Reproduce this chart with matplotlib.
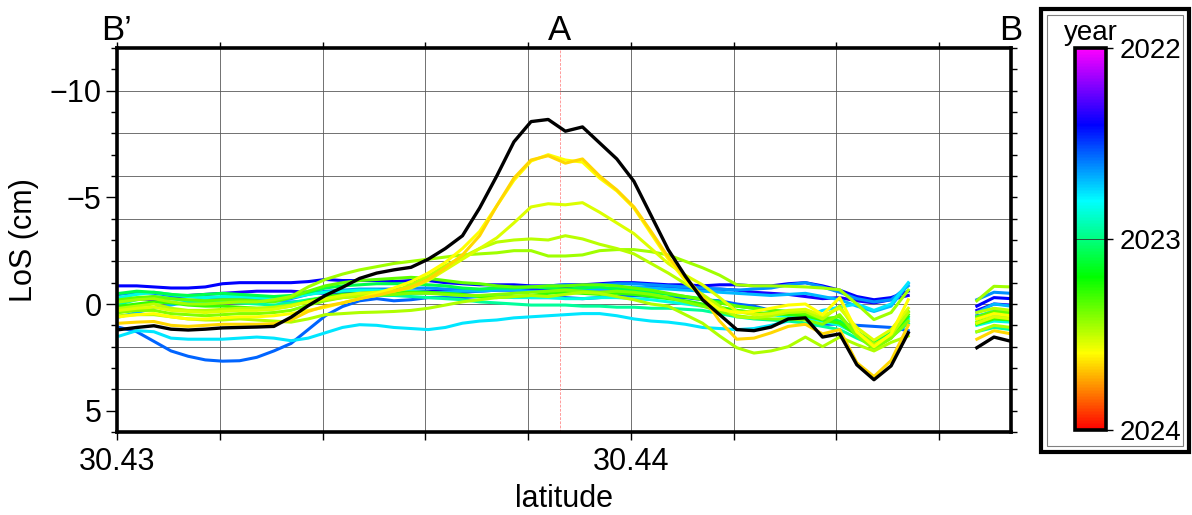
import numpy as np
import matplotlib
matplotlib.use("Agg")
import matplotlib.pyplot as plt
from matplotlib.colors import LinearSegmentedColormap, Normalize
from matplotlib.cm import ScalarMappable
from matplotlib.patches import Rectangle

plt.rcParams['font.family'] = ['Liberation Sans', 'DejaVu Sans']
FS = 22
FS_CB = 20

# ---- profile sampling (regular spacing along latitude, samples 47-49 missing)
lat = 30.43005 + 0.0003337 * np.arange(53)
GAP = 47, 50

# ---- LoS displacement profiles (cm), 47 samples before the gap + 3 after
los_2022_36 = [-0.20,-0.25,-0.20,-0.30,-0.40,-0.45,-0.50,-0.55,-0.60,-0.60, -0.60,-0.55,-0.50,-0.50,-0.50,-0.55,-0.55,-0.60,-0.60,-0.60, -0.55,-0.60,-0.65,-0.65,-0.70,-0.70,-0.75,-0.70,-0.70,-0.70, -0.75,-0.80,-0.80,-0.75,-0.70,-0.70,-0.65,-0.55,-0.50,-0.45, -0.35,-0.25,-0.30,-0.15,-0.05,-0.20,-0.40, 0.30,0.00,0.05]
los_2022_40 = [-0.85,-0.85,-0.80,-0.75,-0.75,-0.80,-0.95,-1.00,-1.00,-1.00, -1.00,-1.05,-1.15,-1.10,-1.10,-1.10,-1.05,-1.10,-1.10,-1.00, -0.95,-0.90,-0.90,-0.90,-0.85,-0.85,-0.90,-0.90,-0.95,-1.00, -1.00,-0.95,-0.90,-0.90,-0.85,-0.90,-0.90,-0.85,-0.85,-0.95, -1.00,-0.85,-0.65,-0.35,-0.20,-0.30,-0.60, 0.10,-0.30,-0.25]
los_2022_56 = [1.10,1.30,1.75,2.20,2.45,2.62,2.68,2.66,2.50,2.20, 1.85,1.20,0.55,0.12,-0.15,-0.25,-0.15,-0.20,-0.30,-0.30, -0.30,-0.35,-0.40,-0.35,-0.30,-0.30,-0.30,-0.25,-0.30,-0.35, -0.40,-0.35,-0.30,-0.30,-0.20,-0.15,0.00,0.10,0.30,0.60, 0.95,0.95,0.95,1.00,1.05,1.10,1.25, 0.55,0.45,0.50]
los_2022_63 = [-0.45,-0.55,-0.50,-0.40,-0.35,-0.30,-0.30,-0.25,-0.20,-0.15, -0.25,-0.45,-0.60,-0.65,-0.70,-0.70,-0.70,-0.75,-0.75,-0.70, -0.70,-0.65,-0.70,-0.75,-0.80,-0.85,-0.90,-0.85,-0.90,-0.95, -0.95,-0.90,-0.85,-0.80,-0.75,-0.70,-0.65,-0.70,-0.75,-0.90, -1.00,-0.80,-0.55,-0.25,-0.10,-0.20,-0.85, -0.20,-0.55,-0.50]
los_2022_69 = [0.60,0.40,0.20,0.05,-0.10,-0.15,-0.15,-0.20,-0.20,-0.15, -0.10,-0.15,-0.25,-0.35,-0.40,-0.45,-0.50,-0.50,-0.50,-0.55, -0.60,-0.60,-0.65,-0.65,-0.60,-0.60,-0.60,-0.65,-0.70,-0.75, -0.80,-0.75,-0.70,-0.65,-0.60,-0.55,-0.50,-0.45,-0.40,-0.45, -0.50,-0.35,-0.20,0.10,0.35,0.10,-0.95, 0.40,0.00,0.10]
los_2022_76 = [1.50,1.25,1.30,1.60,1.65,1.65,1.65,1.60,1.55,1.60, 1.72,1.60,1.35,1.10,0.97,1.00,1.10,1.15,1.20,1.10, 0.90,0.80,0.75,0.65,0.60,0.55,0.50,0.45,0.45,0.55, 0.70,0.80,0.85,0.95,1.10,1.15,1.20,1.15,1.00,0.80, 0.60,0.30,0.15,0.00,0.30,0.00,-1.00, 0.60,0.30,0.35]
los_2022_85 = [-0.30,-0.45,-0.55,-0.45,-0.35,-0.30,-0.35,-0.35,-0.30,-0.25, -0.30,-0.45,-0.55,-0.60,-0.65,-0.65,-0.60,-0.60,-0.55,-0.45, -0.40,-0.35,-0.35,-0.30,-0.30,-0.30,-0.25,-0.25,-0.30,-0.30, -0.25,-0.20,-0.10,0.00,0.10,0.20,0.30,0.40,0.50,0.60, 0.65,0.80,1.00,1.40,1.75,1.40,0.70, 1.00,0.80,0.85]
los_2022_96 = [0.00,-0.20,-0.35,-0.25,-0.15,-0.10,-0.10,-0.05,0.00,0.05, -0.05,-0.20,-0.30,-0.35,-0.35,-0.40,-0.40,-0.35,-0.30,-0.25, -0.20,-0.10,-0.05,0.00,0.05,0.05,0.05,0.10,0.10,0.15, 0.15,0.20,0.20,0.25,0.30,0.45,0.60,0.70,0.75,0.80, 0.90,1.05,1.20,1.60,1.95,1.55,0.90, 1.30,1.10,1.20]
los_2023_08 = [-0.50,-0.60,-0.55,-0.45,-0.40,-0.45,-0.50,-0.45,-0.40,-0.35, -0.40,-0.55,-0.75,-0.85,-0.90,-0.95,-0.95,-0.95,-0.90,-0.85, -0.75,-0.70,-0.75,-0.75,-0.80,-0.75,-0.70,-0.75,-0.80,-0.70, -0.65,-0.55,-0.45,-0.35,-0.25,-0.10,0.10,0.20,0.30,0.35, 0.45,0.60,0.80,1.30,1.80,1.35,0.60, 0.70,0.45,0.50]
los_2023_28 = [0.10,0.00,-0.10,-0.05,0.05,0.10,0.10,0.15,0.20,0.20, 0.10,-0.15,-0.35,-0.45,-0.50,-0.55,-0.55,-0.55,-0.55,-0.50, -0.45,-0.35,-0.30,-0.35,-0.40,-0.50,-0.55,-0.50,-0.45,-0.50, -0.45,-0.35,-0.25,-0.15,0.00,0.15,0.30,0.40,0.45,0.50, 0.55,0.75,0.90,1.45,2.05,1.60,0.50, 0.95,0.70,0.75]
los_2023_35 = [-0.20,-0.30,-0.35,-0.25,-0.20,-0.15,-0.20,-0.20,-0.15,-0.10, -0.30,-0.60,-0.85,-1.00,-1.10,-1.15,-1.20,-1.25,-1.20,-1.10, -1.00,-0.95,-0.85,-0.80,-0.80,-0.85,-0.85,-0.90,-0.90,-0.85, -0.75,-0.65,-0.50,-0.35,-0.20,-0.05,0.10,0.20,0.30,0.35, 0.45,0.70,0.60,1.35,1.90,1.50,0.35, 0.60,0.35,0.40]
los_2023_40 = [0.40,0.30,0.30,0.45,0.50,0.55,0.50,0.45,0.45,0.40, 0.30,0.05,-0.15,-0.30,-0.35,-0.40,-0.45,-0.50,-0.50,-0.45, -0.40,-0.40,-0.45,-0.50,-0.55,-0.60,-0.65,-0.60,-0.55,-0.60, -0.55,-0.45,-0.30,-0.10,0.10,0.35,0.55,0.65,0.70,0.70, 0.75,0.95,0.50,1.50,2.10,1.60,0.80, 0.85,0.60,0.65]
los_2023_45 = [-0.10,-0.20,-0.25,-0.10,0.00,0.00,-0.05,-0.10,-0.10,-0.20, -0.35,-0.80,-1.15,-1.40,-1.60,-1.75,-1.90,-2.00,-2.10,-2.20, -2.30,-2.35,-2.40,-2.50,-2.50,-2.25,-2.25,-2.30,-2.50,-2.55, -2.55,-2.45,-2.30,-2.00,-1.70,-1.35,-0.90,-0.85,-0.85,-0.83, -0.80,-0.75,-0.67,0.00,0.73,0.40,-0.65, -0.15,-0.83,-0.80]
los_2023_47 = [0.55,0.50,0.50,0.60,0.70,0.75,0.75,0.70,0.75,0.80, 0.85,0.70,0.50,0.45,0.40,0.38,0.35,0.30,0.20,0.05, -0.10,-0.20,-0.30,-0.35,-0.40,-0.35,-0.45,-0.55,-0.50,-0.35, -0.20,0.00,0.10,0.50,0.90,1.50,2.05,2.30,2.20,2.00, 1.55,2.00,1.55,1.90,2.20,1.80,1.50, 1.30,1.00,1.10]
los_2023_49 = [0.20,0.10,0.00,0.20,0.30,0.30,0.25,0.20,0.20,0.15, 0.05,-0.10,-0.20,-0.30,-0.40,-0.50,-0.60,-0.90,-1.30,-1.80, -2.20,-2.60,-2.90,-3.00,-3.05,-3.00,-3.20,-3.05,-2.80,-2.60, -2.35,-1.90,-1.45,-0.95,-0.45,0.10,0.60,0.65,0.55,0.40, 0.35,0.70,0.10,1.30,1.90,1.45,0.40, 0.40,0.20,0.30]
los_2023_54 = [0.30,0.20,0.15,0.30,0.35,0.40,0.35,0.30,0.30,0.25, 0.10,-0.10,-0.25,-0.40,-0.50,-0.55,-0.60,-0.75,-1.10,-1.60, -2.10,-2.60,-3.10,-3.80,-4.55,-4.70,-4.65,-4.75,-4.30,-3.80, -3.30,-2.60,-1.90,-1.35,-0.90,-0.30,0.35,0.50,0.45,0.30, 0.25,0.55,0.20,1.10,1.70,1.20,0.20, 0.90,0.60,0.70]
los_2023_60 = [0.60,0.50,0.45,0.60,0.70,0.70,0.65,0.60,0.60,0.55, 0.45,0.30,0.15,-0.05,-0.25,-0.50,-0.75,-1.05,-1.45,-1.95, -2.60,-3.40,-4.60,-5.80,-6.70,-7.00,-6.75,-6.65,-5.90,-5.30, -4.50,-3.30,-2.10,-1.10,-0.30,0.25,0.40,0.35,0.20,0.05, 0.00,0.50,-0.30,1.30,2.00,1.40,-0.20, 0.70,0.45,0.55]
los_2023_66 = [0.90,0.85,0.82,1.00,1.05,1.00,0.95,0.95,0.95,0.92, 0.75,0.35,0.10,-0.05,-0.25,-0.40,-0.60,-0.80,-1.15,-1.70, -2.30,-3.20,-4.60,-5.90,-6.75,-6.95,-6.60,-6.80,-6.00,-5.35, -4.55,-3.40,-2.20,-1.25,-0.35,0.80,1.65,1.60,1.35,1.05, 0.95,1.40,1.20,2.75,3.40,2.65,1.00, 1.65,1.25,1.40]
los_latest = [1.20,1.10,1.02,1.18,1.22,1.18,1.12,1.10,1.08,1.05, 0.62,0.08,-0.40,-0.78,-1.20,-1.45,-1.60,-1.72,-2.10,-2.60, -3.20,-4.50,-6.00,-7.60,-8.55,-8.65,-8.10,-8.30,-7.55,-6.80, -5.75,-4.15,-2.55,-1.30,-0.20,0.50,1.20,1.25,1.08,0.70, 0.65,1.55,1.40,2.85,3.55,2.90,1.35, 2.05,1.55,1.75]

dates = [2022.36, 2022.40, 2022.56, 2022.63, 2022.69, 2022.76, 2022.85, 2022.96,
         2023.08, 2023.28, 2023.35, 2023.40, 2023.45, 2023.47, 2023.49, 2023.54,
         2023.60, 2023.66]
profiles = [los_2022_36, los_2022_40, los_2022_56, los_2022_63, los_2022_69,
            los_2022_76, los_2022_85, los_2022_96, los_2023_08, los_2023_28,
            los_2023_35, los_2023_40, los_2023_45, los_2023_47, los_2023_49,
            los_2023_54, los_2023_60, los_2023_66]

x_ticks = [30.430, 30.432, 30.434, 30.436, 30.438, 30.440, 30.442, 30.444, 30.446]
x_labels = ['30.43', '', '', '', '', '30.44', '', '', '']
y_ticks = [-10, -5, 0, 5]
point_A = 30.43862


def with_gap(vals):
    v = np.asarray(vals, dtype=float)
    return np.concatenate([v[:GAP[0]], np.full(GAP[1] - GAP[0], np.nan), v[GAP[0]:]])


# GMT-style rainbow palette
rainbow = LinearSegmentedColormap.from_list(
    'gmt_rainbow',
    [(0.0, '#ff00ff'), (0.2, '#0000ff'), (0.4, '#00ffff'),
     (0.6, '#00ff00'), (0.8, '#ffff00'), (1.0, '#ff0000')])
norm = Normalize(2022, 2024)

W, H = 1192, 515
fig = plt.figure(figsize=(W / 100, H / 100), dpi=100)
L, R, T, B = 117, 1011, 48, 432
ax = fig.add_axes([L / W, 1 - B / H, (R - L) / W, (B - T) / H])

ax.set_xlim(30.43, 30.4474)
ax.set_ylim(6, -12)

# grid
for gx in x_ticks:
    ax.axvline(gx, color='0.35', lw=0.6, zorder=1)
for gy in range(-12, 7, 2):
    ax.axhline(gy, color='0.35', lw=0.6, zorder=1)
ax.axvline(point_A, color=(1, 0.45, 0.45), lw=0.5, ls=(0, (4, 2)), zorder=1.5)

for d, p in zip(dates, profiles):
    ax.plot(lat, with_gap(p), color=rainbow(norm(d)), lw=2.2, zorder=2)
ax.plot(lat, with_gap(los_latest), color='k', lw=2.4, zorder=3)

# axes decoration
for s in ax.spines.values():
    s.set_linewidth(2.6)
    s.set_zorder(5)
ax.set_xticks(x_ticks)
ax.set_xticklabels(x_labels, fontsize=FS)
ax.set_yticks(y_ticks)
ax.set_yticks(np.arange(-12, 7, 1), minor=True)
ax.tick_params(axis='y', which='major', length=8, width=1.0, labelsize=FS, pad=3)
ax.tick_params(axis='y', which='minor', length=4, width=1.0)
ax.tick_params(axis='x', which='major', length=6, width=1.0, pad=5)

sec_top = ax.secondary_xaxis('top')
sec_top.set_xticks(x_ticks)
sec_top.set_xticklabels([])
sec_top.tick_params(length=4, width=1.0)
sec_top.spines['top'].set_visible(False)
sec_right = ax.secondary_yaxis('right')
sec_right.set_yticks(np.arange(-12, 7, 1))
sec_right.set_yticklabels([])
sec_right.tick_params(length=4, width=1.0)
sec_right.spines['right'].set_visible(False)

fig.text(24 / W, 1 - 240 / H, 'LoS (cm)', rotation=90, ha='center', va='center', fontsize=FS)
fig.text((L + R) / 2 / W, 1 - 507 / H, 'latitude', ha='center', va='baseline', fontsize=FS)

for xx, lab in [(L, 'B\u2019'), (560, 'A'), (R, 'B')]:
    fig.text(xx / W, 1 - 40 / H, lab, ha='center', va='baseline', fontsize=25)

# colour scale
cax = fig.add_axes([1075 / W, 1 - 430 / H, 31 / W, 382 / H])
cb = fig.colorbar(ScalarMappable(norm=norm, cmap=rainbow), cax=cax)
cax.invert_yaxis()
cb.set_ticks([2022, 2023, 2024])
cb.set_ticklabels(['2022', '2023', '2024'])
cb.outline.set_linewidth(2.6)
cax.tick_params(labelsize=FS_CB, length=5, width=1.0, pad=5)
cax.axhline(2023, color='0.2', lw=0.6)
fig.text(1091 / W, 1 - 40 / H, 'year', ha='center', va='baseline', fontsize=FS_CB)

fig.add_artist(Rectangle((1041 / W, 1 - 452 / H), 148 / W, 443 / H,
                         transform=fig.transFigure, fill=False, ec='k', lw=3.0))
fig.add_artist(Rectangle((1047 / W, 1 - 446 / H), 136 / W, 431 / H,
                         transform=fig.transFigure, fill=False, ec='0.5', lw=0.8))

fig.savefig('out.png', dpi=100)
